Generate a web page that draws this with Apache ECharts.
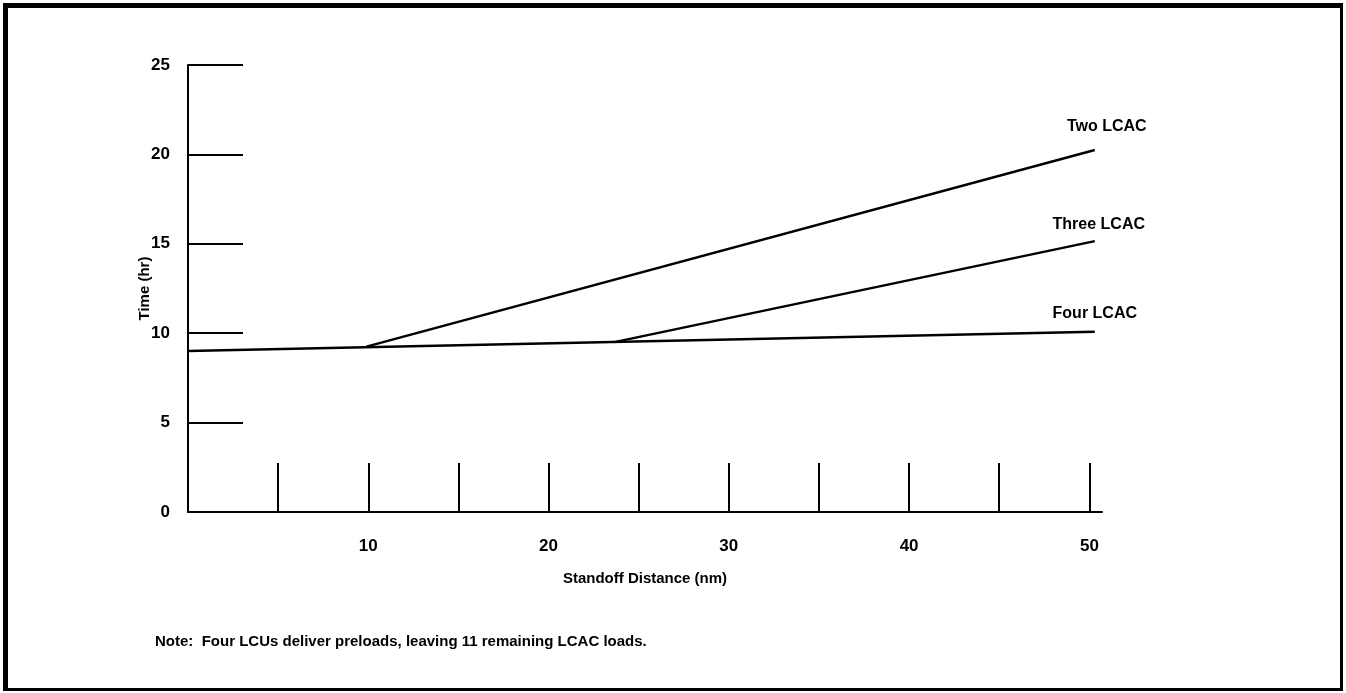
<!DOCTYPE html>
<html>
<head>
<meta charset="utf-8">
<script src="https://cdn.jsdelivr.net/npm/echarts@6/dist/echarts.min.js"></script>
<style>
  html, body { margin: 0; padding: 0; background: #fff; }
  #chart { position: absolute; left: 0; top: 0; width: 1346px; height: 693px; }
  #frame {
    position: absolute; left: 3px; top: 3px; width: 1340px; height: 688px;
    box-sizing: border-box;
    border-style: solid; border-color: #000;
    border-width: 5px 3px 3px 5px;
    pointer-events: none;
  }
</style>
</head>
<body>
<div id="chart"></div>
<div id="frame"></div>
<script>
  // tick positions and labels
  const xTickValues = [5, 10, 15, 20, 25, 30, 35, 40, 45, 50]
  const xLabelValues = [10, 20, 30, 40, 50]
  const yTickValues = [0, 5, 10, 15, 20, 25]

  // series: [standoff distance (nm), time (hr)]
  const twoLCAC = [[9.9, 9.25], [50.3, 20.25]]
  const threeLCAC = [[23.65, 9.5], [50.3, 15.15]]
  const fourLCAC = [[0, 9.0], [50.3, 10.08]]

  const noteText = 'Note:  Four LCUs deliver preloads, leaving 11 remaining LCAC loads.'

  const font = "'Liberation Sans', Arial, sans-serif"

  function lineSeries(name, data, dist, dx) {
    return {
      name: name,
      type: 'line',
      data: data.map(function (p, i) {
        if (i === data.length - 1) {
          return {
            value: p,
            label: {
              show: true, position: 'top', distance: dist, offset: [dx, 0],
              formatter: name, color: '#000', fontFamily: font,
              fontWeight: 'bold', fontSize: 16
            }
          }
        }
        return p
      }),
      symbol: 'circle',
      symbolSize: 1,
      showSymbol: true,
      itemStyle: { color: 'rgba(0,0,0,0)' },
      lineStyle: { color: '#000', width: 2.5 },
      silent: true,
      animation: false
    }
  }

  let chart = echarts.init(document.getElementById('chart'))
  chart.setOption({
    backgroundColor: '#fff',
    animation: false,
    title: {
      text: noteText,
      left: 150,
      top: 629,
      textStyle: { fontFamily: font, fontWeight: 'bold', fontSize: 15, color: '#000' }
    },
    grid: { left: 188, right: 244, top: 65, bottom: 181 },
    xAxis: {
      type: 'value',
      min: 0,
      max: 50.7,
      interval: 5,
      name: 'Standoff Distance (nm)',
      nameLocation: 'middle',
      nameGap: 59,
      nameMoveOverlap: false,
      nameTextStyle: { fontFamily: font, fontWeight: 'bold', fontSize: 15, color: '#000' },
      axisLine: { lineStyle: { color: '#000', width: 2 } },
      axisTick: {
        inside: true, length: 49, customValues: xTickValues,
        lineStyle: { color: '#000', width: 2 }
      },
      axisLabel: {
        customValues: xLabelValues, margin: 26,
        fontFamily: font, fontWeight: 'bold', fontSize: 17, color: '#000'
      },
      splitLine: { show: false }
    },
    yAxis: {
      type: 'value',
      min: 0,
      max: 25,
      interval: 5,
      name: 'Time (hr)',
      nameLocation: 'middle',
      nameGap: 36,
      nameMoveOverlap: false,
      nameTextStyle: { fontFamily: font, fontWeight: 'bold', fontSize: 15, color: '#000' },
      axisLine: { show: true, lineStyle: { color: '#000', width: 2 } },
      axisTick: {
        show: true, inside: true, length: 55, customValues: yTickValues,
        lineStyle: { color: '#000', width: 2 }
      },
      axisLabel: {
        margin: 18, fontFamily: font, fontWeight: 'bold', fontSize: 17, color: '#000'
      },
      splitLine: { show: false }
    },
    series: [
      lineSeries('Two LCAC', twoLCAC, 15, 12),
      lineSeries('Three LCAC', threeLCAC, 8, 4),
      lineSeries('Four LCAC', fourLCAC, 10, 0)
    ]
  })
</script>
</body>
</html>
